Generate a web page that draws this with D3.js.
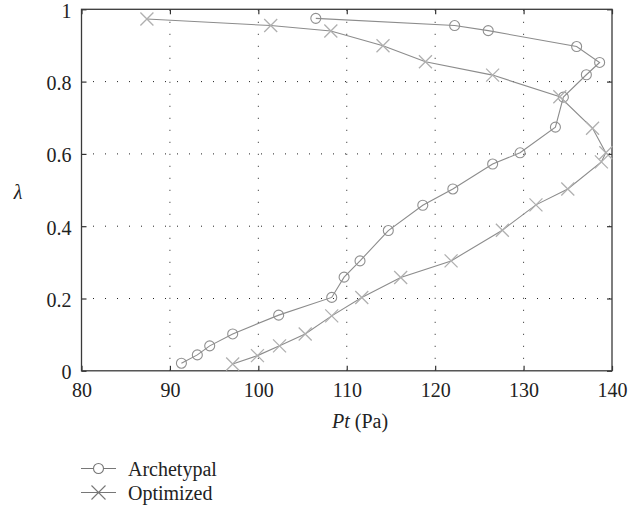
<!DOCTYPE html>
<html>
<head>
<meta charset="utf-8">
<script src="https://cdn.jsdelivr.net/npm/d3@7"></script>
<style>
  html, body { margin: 0; padding: 0; background: #fff; }
  svg text { font-family: "Liberation Serif"; }
</style>
</head>
<body>
<div id="chart"></div>
<script>
// Pt (Pa) against lambda, two blade designs.
const xTicks = [80, 90, 100, 110, 120, 130, 140];
const yTicks = [0, 0.2, 0.4, 0.6, 0.8, 1];

const archetypalPt = [91.3, 93.1, 94.5, 97.1, 102.3, 108.3, 109.7, 111.5, 114.7, 118.6, 122.0,
  126.5, 129.6, 133.6, 134.5, 137.1, 138.6, 136.0, 126.0, 122.2, 106.5];
const archetypalLambda = [0.021, 0.044, 0.069, 0.102, 0.154, 0.203, 0.259, 0.304, 0.388, 0.458, 0.503,
  0.572, 0.603, 0.674, 0.757, 0.819, 0.853, 0.897, 0.941, 0.955, 0.975];

const optimizedPt = [87.4, 101.4, 108.2, 114.1, 118.9, 126.5, 134.1, 137.8, 139.3, 138.8, 135.0,
  131.4, 127.6, 121.8, 116.1, 111.7, 108.3, 105.3, 102.4, 99.9, 97.1];
const optimizedLambda = [0.973, 0.955, 0.940, 0.899, 0.855, 0.818, 0.758, 0.671, 0.603, 0.578, 0.503,
  0.459, 0.389, 0.304, 0.258, 0.203, 0.152, 0.102, 0.069, 0.042, 0.019];

const seriesNames = ["Archetypal", "Optimized"];

(() => {
  const W = 641, H = 509;
  const left = 81.5, right = 612, top = 9.3, bottom = 370.8;
  const FONT = "Liberation Serif"; // the other serif names map to a sans face here

  const x = d3.scaleLinear().domain([80, 140]).range([left, right]);
  const y = d3.scaleLinear().domain([0, 1]).range([bottom, top]);

  const svg = d3.select("#chart").append("svg")
    .attr("width", W).attr("height", H)
    .attr("viewBox", `0 0 ${W} ${H}`)
    .attr("font-family", FONT);

  // dotted grid, inner ticks only
  const gridX = xTicks.slice(1, -1), gridY = yTicks.slice(1, -1);
  svg.append("g").selectAll("line").data(gridX).join("line")
    .attr("x1", (d) => x(d)).attr("x2", (d) => x(d))
    .attr("y1", top).attr("y2", bottom)
    .attr("stroke", "#222").attr("stroke-width", 1)
    .attr("stroke-dasharray", "1,11").attr("stroke-dashoffset", -0.5);
  svg.append("g").selectAll("line").data(gridY).join("line")
    .attr("x1", left).attr("x2", right)
    .attr("y1", (d) => y(d)).attr("y2", (d) => y(d))
    .attr("stroke", "#222").attr("stroke-width", 1)
    .attr("stroke-dasharray", "1,11").attr("stroke-dashoffset", -11.5);

  // axes with inward ticks
  const tickLen = 5;
  const xAxis = svg.append("g").attr("transform", `translate(0,${bottom})`)
    .call(d3.axisBottom(x).tickValues(xTicks).tickSize(-tickLen).tickFormat(d3.format("d")));
  const yAxis = svg.append("g").attr("transform", `translate(${left},0)`)
    .call(d3.axisLeft(y).tickValues(yTicks).tickSize(-tickLen)
      .tickFormat((d) => (d === 0 || d === 1) ? String(d) : d.toFixed(1)));
  svg.append("g").attr("transform", `translate(0,${top})`)
    .call(d3.axisTop(x).tickValues(xTicks).tickSize(-tickLen).tickFormat(""));
  svg.append("g").attr("transform", `translate(${right},0)`)
    .call(d3.axisRight(y).tickValues(yTicks).tickSize(-tickLen).tickFormat(""));

  svg.selectAll(".domain").remove();
  svg.selectAll("g").attr("font-family", FONT).attr("font-size", 20);
  svg.selectAll(".tick line").attr("stroke", "#333").attr("stroke-width", 1.2);
  xAxis.selectAll(".tick text").attr("y", 12).attr("dy", "0.71em").attr("fill", "#222");
  yAxis.selectAll(".tick text").attr("x", -10).attr("dy", "0.4em").attr("fill", "#222");

  // frame
  svg.append("rect")
    .attr("x", left).attr("y", top)
    .attr("width", right - left).attr("height", bottom - top)
    .attr("fill", "none").attr("stroke", "#3a3a3a").attr("stroke-width", 1.3);

  const line = d3.line().x((d) => x(d[0])).y((d) => y(d[1]));
  const arch = d3.zip(archetypalPt, archetypalLambda);
  const opt = d3.zip(optimizedPt, optimizedLambda);

  const lineColor = "#8c8c8c";
  svg.append("path").datum(arch).attr("d", line)
    .attr("fill", "none").attr("stroke", lineColor).attr("stroke-width", 1.1);
  svg.append("path").datum(opt).attr("d", line)
    .attr("fill", "none").attr("stroke", lineColor).attr("stroke-width", 1.1);

  const cross = (s) => `M${-s},${-s}L${s},${s}M${-s},${s}L${s},${-s}`;

  svg.append("g").selectAll("circle").data(arch).join("circle")
    .attr("cx", (d) => x(d[0])).attr("cy", (d) => y(d[1])).attr("r", 5)
    .attr("fill", "none").attr("stroke", "#909090").attr("stroke-width", 1.1);

  svg.append("g").selectAll("path").data(opt).join("path")
    .attr("transform", (d) => `translate(${x(d[0])},${y(d[1])})`)
    .attr("d", cross(6.5))
    .attr("fill", "none").attr("stroke", "#b0b0b0").attr("stroke-width", 1.3);

  // axis titles
  svg.append("text").attr("x", 18).attr("y", 199)
    .attr("text-anchor", "middle").attr("font-size", 20).attr("font-style", "italic").attr("fill", "#222")
    .text("λ");
  const xt = svg.append("text").attr("x", 360).attr("y", 428)
    .attr("text-anchor", "middle").attr("font-size", 20).attr("fill", "#222");
  xt.append("tspan").attr("font-style", "italic").text("Pt");
  xt.append("tspan").text(" (Pa)");

  // legend
  const lg = svg.append("g");
  const rows = [468.5, 492.5];
  seriesNames.forEach((name, i) => {
    const ly = rows[i];
    lg.append("line").attr("x1", 81).attr("x2", 116).attr("y1", ly).attr("y2", ly)
      .attr("stroke", "#777").attr("stroke-width", 1.1);
    if (i === 0) {
      lg.append("circle").attr("cx", 98.5).attr("cy", ly).attr("r", 5)
        .attr("fill", "#fff").attr("stroke", "#777").attr("stroke-width", 1.1);
    } else {
      lg.append("path").attr("transform", `translate(98.5,${ly})`).attr("d", cross(7))
        .attr("fill", "none").attr("stroke", "#777").attr("stroke-width", 1.1);
    }
    lg.append("text").attr("x", 128).attr("y", ly).attr("dy", "0.35em")
      .attr("font-size", 20).attr("fill", "#222").text(name);
  });
})();
</script>
</body>
</html>
